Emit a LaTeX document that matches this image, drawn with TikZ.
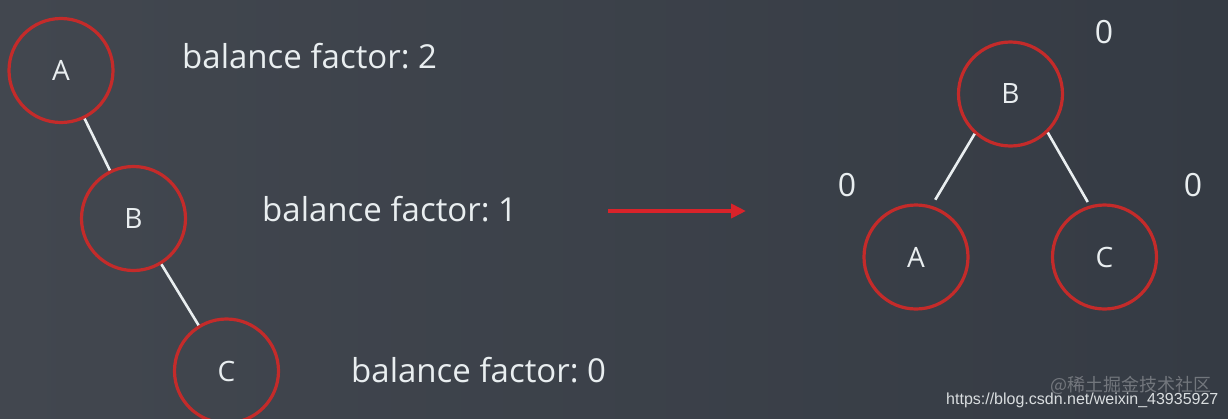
\documentclass[tikz,border=0pt]{standalone}
\usepackage{fontspec}
\setmainfont{Open Sans}
\newfontfamily\urlfont{Liberation Sans}
\newfontfamily\cjk{Noto Sans CJK SC}
\usetikzlibrary{arrows.meta,calc}
\frenchspacing
\definecolor{bgL}{HTML}{42474F}
\definecolor{bgR}{HTML}{353B44}
\definecolor{ring}{HTML}{C42B2A}
\definecolor{txt}{HTML}{E9EEF0}
\definecolor{arr}{HTML}{D9232A}
\begin{document}
\begin{tikzpicture}[x=1pt,y=-1pt,
  tnode/.style={circle,draw=ring,line width=3.2pt,minimum size=104pt,inner sep=0pt,
    text=txt,font=\fontsize{28}{28}\selectfont},
  edge/.style={draw=txt,line width=2.6pt},
  bf/.style={anchor=base west,inner sep=0pt,text=txt,font=\fontsize{33}{33}\selectfont},
  zero/.style={anchor=base,inner sep=0pt,text=txt,font=\fontsize{32}{32}\selectfont}]
\shade[left color=bgL,right color=bgR] (0,0) rectangle (1228,418);
\useasboundingbox (0,0) rectangle (1228,418);
% left tree
\node[tnode] (lA) at (61,70.5) {A};
\node[tnode] (lB) at (133.5,218.5) {B};
\node[tnode] (lC) at (226.5,371) {C};
\draw[edge] (lA) -- (lB);
\draw[edge] (lB) -- (lC);
\node[bf] (f2) at (182,68) {balance factor: 2};
\node[bf] (f1) at (262,221) {balance factor: 1};
\node[bf] (f0) at (351,382) {balance factor: 0};
% arrow
\coordinate (as) at (608,211);
\coordinate (ae) at (746,211);
\draw[draw=arr,line width=4pt,-{Triangle[length=15pt,width=14pt]}] (as) -- (ae);
% right tree
\node[tnode] (rB) at (1010.5,94) {B};
\node[tnode] (rA) at (916,257) {A};
\node[tnode] (rC) at (1104.5,257) {C};
\draw[edge,shorten >=7pt] (rB.-132) -- (rA.73);
\draw[edge,shorten >=4pt] (rB.-46) -- (rC.106);
\node[zero] (zB) at (1104,43) {0};
\node[zero] (zA) at (847,196) {0};
\node[zero] (zC) at (1193,196) {0};
% watermark
\node[anchor=base east,inner sep=0pt,text=white,opacity=0.3,font=\cjk\fontsize{18}{18}\selectfont] (wm1) at (1212,391) {@稀土掘金技术社区};
\node[anchor=base west,inner sep=0pt,text=txt!85!gray,font=\urlfont\fontsize{16}{16}\selectfont] (wm2) at (946,404) {https://blog.csdn.net/weixin\_43935927};
\end{tikzpicture}
\end{document}
